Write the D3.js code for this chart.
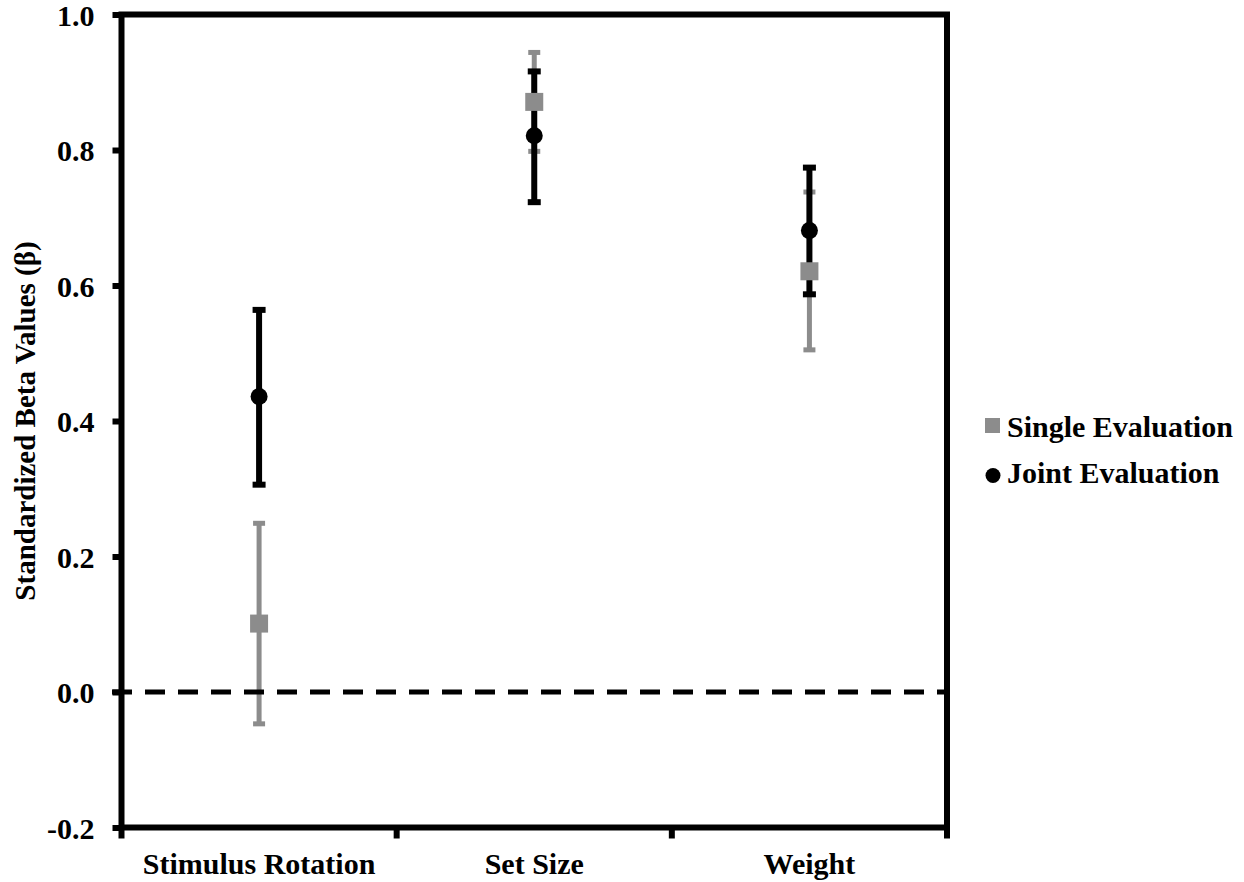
<!DOCTYPE html>
<html>
<head>
<meta charset="utf-8">
<script src="https://cdn.jsdelivr.net/npm/d3@7"></script>
<style>
  body { margin: 0; background: #fff; }
  text { font-family: "Liberation Serif", "Times New Roman", serif; font-weight: bold; fill: #000; }
</style>
</head>
<body>
<svg width="1244" height="882"></svg>
<script>
var categories = ["Stimulus Rotation", "Set Size", "Weight"];
var singleBeta = [0.101, 0.871, 0.621];
var singleLow  = [-0.047, 0.798, 0.505];
var singleHigh = [0.249, 0.944, 0.738];
var jointBeta  = [0.436, 0.821, 0.681];
var jointLow   = [0.306, 0.723, 0.587];
var jointHigh  = [0.564, 0.916, 0.774];
var yTicks = [-0.2, 0, 0.2, 0.4, 0.6, 0.8, 1.0];
var seriesNames = ["Single Evaluation", "Joint Evaluation"];

var gray = "#8c8c8c";
var fontSize = "30px";
var svg = d3.select("svg");
var plotL = 121.5, plotR = 947, plotT = 14.5, plotB = 827.5;

var x = d3.scaleBand().domain(categories).range([plotL, plotR]);
var y = d3.scaleLinear().domain([-0.2, 1.0]).range([plotB, plotT]);

// y axis ticks + labels (plain hyphen for negatives, like the original)
var yAxis = svg.append("g")
    .attr("transform", "translate(" + plotL + ",0)")
    .call(d3.axisLeft(y).tickValues(yTicks).tickSize(9).tickPadding(18)
      .tickFormat(function(d) { return d.toFixed(1); }));
yAxis.select(".domain").remove();
yAxis.selectAll("line").attr("stroke", "#000").attr("stroke-width", 6);
yAxis.selectAll("text").style("font-size", fontSize).attr("font-family", null)
    .attr("dy", "0.36em");

// x axis labels
var xAxis = svg.append("g")
    .attr("transform", "translate(0," + plotB + ")")
    .call(d3.axisBottom(x).tickSize(0).tickPadding(25));
xAxis.select(".domain").remove();
xAxis.selectAll("text").style("font-size", fontSize).attr("font-family", null);

// x ticks at band boundaries
var bounds = categories.map(function(c) { return x(c); }).concat([x.range()[1]]);
svg.append("g").selectAll("line").data(bounds).enter().append("line")
    .attr("x1", function(d) { return d; }).attr("x2", function(d) { return d; })
    .attr("y1", plotB).attr("y2", plotB + 11)
    .attr("stroke", "#000").attr("stroke-width", 6);

// frame
svg.append("rect")
    .attr("x", plotL).attr("y", plotT)
    .attr("width", plotR - plotL).attr("height", plotB - plotT)
    .attr("fill", "none").attr("stroke", "#000").attr("stroke-width", 6);

// y title
svg.append("text")
    .attr("transform", "translate(35," + (plotT + plotB) / 2 + ") rotate(-90)")
    .attr("text-anchor", "middle")
    .style("font-size", "29px")
    .text("Standardized Beta Values (\u03b2)");

var cx = function(i) { return x(categories[i]) + x.bandwidth() / 2; };

function errorBars(low, high, color, width, capW, capH) {
  var g = svg.append("g");
  g.selectAll("line").data(categories).enter().append("line")
      .attr("x1", function(d, i) { return cx(i); })
      .attr("x2", function(d, i) { return cx(i); })
      .attr("y1", function(d, i) { return y(low[i]); })
      .attr("y2", function(d, i) { return y(high[i]); })
      .attr("stroke", color).attr("stroke-width", width);
  [low, high].forEach(function(arr) {
    g.append("g").selectAll("rect").data(categories).enter().append("rect")
        .attr("x", function(d, i) { return cx(i) - capW / 2; })
        .attr("y", function(d, i) { return y(arr[i]) - capH / 2; })
        .attr("width", capW).attr("height", capH)
        .attr("fill", color);
  });
}

errorBars(singleLow, singleHigh, gray, 5, 12, 5);
errorBars(jointLow, jointHigh, "#000", 6, 13, 6);

// zero reference line
svg.append("line")
    .attr("x1", plotL - 9.5).attr("x2", plotR)
    .attr("y1", y(0)).attr("y2", y(0))
    .attr("stroke", "#000").attr("stroke-width", 5)
    .attr("stroke-dasharray", "20,13");

// markers
svg.append("g").selectAll("rect").data(singleBeta).enter().append("rect")
    .attr("x", function(d, i) { return cx(i) - 9; })
    .attr("y", function(d) { return y(d) - 9; })
    .attr("width", 18).attr("height", 18)
    .attr("fill", gray);

svg.append("g").selectAll("circle").data(jointBeta).enter().append("circle")
    .attr("cx", function(d, i) { return cx(i); })
    .attr("cy", function(d) { return y(d); })
    .attr("r", 8.5)
    .attr("fill", "#000");

// legend
var legend = svg.append("g");
legend.append("rect").attr("x", 985).attr("y", 418).attr("width", 15).attr("height", 15).attr("fill", gray);
legend.append("circle").attr("cx", 993).attr("cy", 475.5).attr("r", 7.5).attr("fill", "#000");
legend.selectAll("text").data(seriesNames).enter().append("text")
    .attr("x", 1007)
    .attr("y", function(d, i) { return 437 + i * 46; })
    .style("font-size", fontSize)
    .text(function(d) { return d; });
</script>
</body>
</html>
